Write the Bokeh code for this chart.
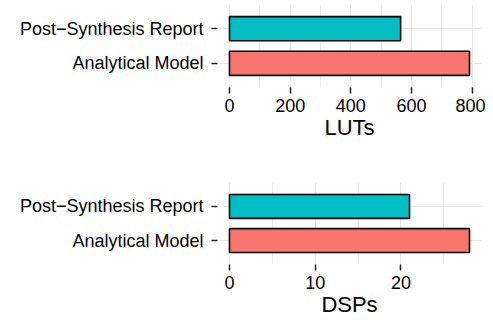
from bokeh.plotting import figure
from bokeh.layouts import column
from bokeh.models import FactorRange, Range1d, FixedTicker, ColumnDataSource
from bokeh.embed import file_html
from bokeh.resources import INLINE

# ---- data ----
categories = ["Analytical Model", "Post\u2212Synthesis Report"]
bar_colors = ["#F8766D", "#00BFC4"]

lut_values = [791, 564]
lut_ticks = [0, 200, 400, 600, 800]
lut_minor_ticks = [100, 300, 500, 700]

dsp_values = [28, 21]
dsp_ticks = [0, 10, 20]
dsp_minor_ticks = [5, 15, 25]

FONT = "Liberation Sans"


def make_panel(values, ticks, minor_ticks, title, height, border_top, border_bottom):
    vmax = max(values)
    p = figure(
        width=485, height=height,
        y_range=FactorRange(factors=categories, range_padding=0.2,
                            range_padding_units="absolute"),
        x_range=Range1d(-0.05 * vmax, 1.05 * vmax),
        output_backend="svg", toolbar_location=None,
        min_border_left=217, min_border_right=4,
        min_border_top=border_top, min_border_bottom=border_bottom,
    )
    p.outline_line_color = None
    p.background_fill_color = "white"
    p.border_fill_color = "white"

    src = ColumnDataSource(dict(cat=categories, val=values, color=bar_colors))
    p.hbar(y="cat", right="val", left=0, height=0.7, source=src,
           fill_color="color", line_color="black", line_width=1.6)

    p.xaxis.ticker = FixedTicker(ticks=ticks, minor_ticks=minor_ticks)
    for ax in (p.xaxis, p.yaxis):
        ax.axis_line_color = None
        ax.major_tick_in = 0
        ax.major_tick_out = 6
        ax.minor_tick_in = 0
        ax.minor_tick_out = 0
        ax.major_tick_line_color = "#222222"
        ax.major_tick_line_width = 1.5
        ax.major_label_text_font = FONT
        ax.major_label_text_font_size = "18px"
        ax.major_label_text_color = "black"

    p.yaxis.major_label_standoff = 8
    p.xaxis.major_label_standoff = 5
    p.xaxis.axis_label = title
    p.xaxis.axis_label_text_font = FONT
    p.xaxis.axis_label_text_font_size = "22px"
    p.xaxis.axis_label_text_font_style = "normal"
    p.xaxis.axis_label_text_color = "black"
    p.xaxis.axis_label_standoff = 0

    p.xgrid.grid_line_color = "#EBEBEB"
    p.xgrid.grid_line_width = 1.2
    p.xgrid.minor_grid_line_color = "#EFEFEF"
    p.xgrid.minor_grid_line_width = 1
    p.ygrid.grid_line_color = "#EBEBEB"
    p.ygrid.grid_line_width = 1.2
    return p


p1 = make_panel(lut_values, lut_ticks, lut_minor_ticks, "LUTs", 182, 4, 95)
p2 = make_panel(dsp_values, dsp_ticks, dsp_minor_ticks, "DSPs", 138, 0, 56)

layout = column(p1, p2, spacing=0)
open("out.html", "w").write(file_html(layout, INLINE))
